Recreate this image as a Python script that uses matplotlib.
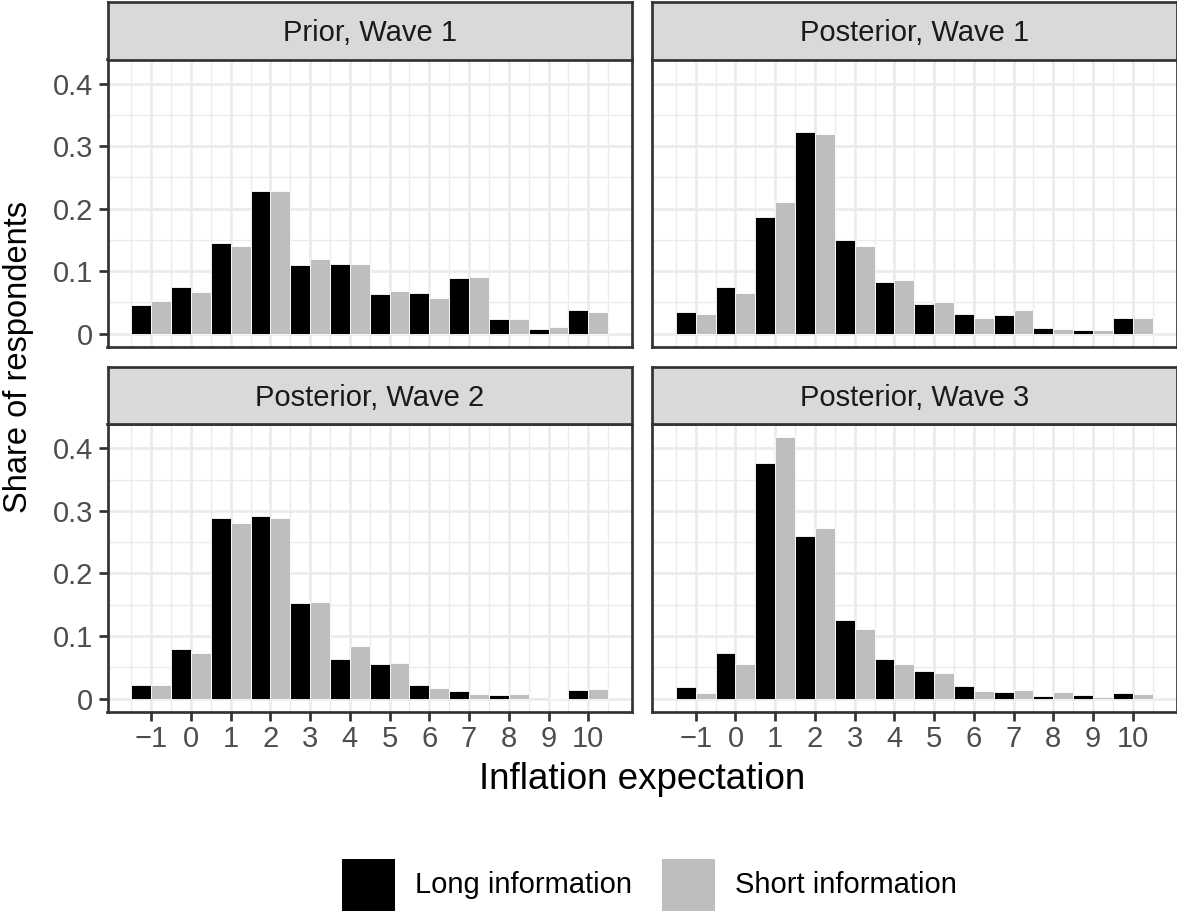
import numpy as np
import matplotlib
matplotlib.use("Agg")
import matplotlib.pyplot as plt
from matplotlib.patches import Rectangle
from matplotlib.ticker import FixedLocator

plt.rcParams['font.family'] = ['Liberation Sans', 'DejaVu Sans']

# Inflation expectation categories (percent)
expectations = [-1, 0, 1, 2, 3, 4, 5, 6, 7, 8, 9, 10]
tick_labels = ["\u22121", "0", "1", "2", "3", "4", "5", "6", "7", "8", "9", "10"]

panel_titles = ["Prior, Wave 1", "Posterior, Wave 1", "Posterior, Wave 2", "Posterior, Wave 3"]
group_names = ["Long information", "Short information"]

# Share of respondents per treatment group
prior_w1_long = [0.046, 0.075, 0.145, 0.228, 0.110, 0.112, 0.064, 0.065, 0.089, 0.0235, 0.0075, 0.038]
prior_w1_short = [0.052, 0.067, 0.140, 0.228, 0.120, 0.112, 0.068, 0.057, 0.091, 0.0235, 0.011, 0.035]

post_w1_long = [0.035, 0.075, 0.187, 0.3235, 0.150, 0.083, 0.048, 0.032, 0.030, 0.009, 0.006, 0.025]
post_w1_short = [0.032, 0.065, 0.210, 0.319, 0.141, 0.086, 0.051, 0.025, 0.038, 0.0075, 0.006, 0.025]

post_w2_long = [0.021, 0.079, 0.288, 0.2925, 0.153, 0.063, 0.055, 0.021, 0.012, 0.005, 0.0008, 0.013]
post_w2_short = [0.021, 0.073, 0.281, 0.288, 0.1545, 0.084, 0.057, 0.0166, 0.007, 0.007, 0.0012, 0.015]

post_w3_long = [0.018, 0.073, 0.376, 0.260, 0.126, 0.063, 0.044, 0.020, 0.010, 0.004, 0.005, 0.0085]
post_w3_short = [0.0085, 0.055, 0.418, 0.273, 0.111, 0.055, 0.041, 0.012, 0.013, 0.010, 0.002, 0.007]

panel_long = [prior_w1_long, post_w1_long, post_w2_long, post_w3_long]
panel_short = [prior_w1_short, post_w1_short, post_w2_short, post_w3_short]

LONG_COLOR = "#000000"
SHORT_COLOR = "#BEBEBE"
BORDER = "#333333"
GRID = "#EBEBEB"
STRIP_FILL = "#D9D9D9"

W, H = 1177, 911
fig = plt.figure(figsize=(W / 100, H / 100), dpi=100)


def frac(x0, y0, x1, y1):
    """Pixel box (top-left origin) -> figure fraction rect."""
    return [x0 / W, 1 - y1 / H, (x1 - x0) / W, (y1 - y0) / H]


col_x = [(107.5, 632.0), (652.0, 1176.5)]
row_panel = [(59.5, 346.7), (424.0, 711.7)]
row_strip = [(2.3, 59.5), (366.7, 424.0)]

x = np.array(expectations, dtype=float)
ymax = max(max(v) for v in panel_long + panel_short)
ylim = (-0.05 * ymax, 1.05 * ymax)
xlim = (-1.5 - 0.6, 10.5 + 0.6)

border_lw = 1.95
small_fs = 21
title_fs = 26.5

for i in range(4):
    r, c = divmod(i, 2)
    x0, x1 = col_x[c]
    py0, py1 = row_panel[r]
    sy0, sy1 = row_strip[r]

    ax = fig.add_axes(frac(x0, py0, x1, py1))
    ax.set_facecolor("white")
    ax.set_axisbelow(True)
    ax.bar(x - 0.25, panel_long[i], width=0.5, color=LONG_COLOR,
           edgecolor="white", linewidth=0.6, zorder=2)
    ax.bar(x + 0.25, panel_short[i], width=0.5, color=SHORT_COLOR,
           edgecolor="white", linewidth=0.6, zorder=2)
    ax.set_xlim(*xlim)
    ax.set_ylim(*ylim)

    ax.xaxis.set_major_locator(FixedLocator(expectations))
    ax.xaxis.set_minor_locator(FixedLocator(np.arange(-1.5, 11.0, 1.0)))
    ax.yaxis.set_major_locator(FixedLocator([0, 0.1, 0.2, 0.3, 0.4]))
    ax.yaxis.set_minor_locator(FixedLocator([0.05, 0.15, 0.25, 0.35]))
    ax.grid(which="major", color=GRID, linewidth=1.9, zorder=0)
    ax.grid(which="minor", color=GRID, linewidth=1.0, zorder=0)
    ax.tick_params(which="minor", length=0)
    ax.tick_params(which="major", length=6.5, width=border_lw, color=BORDER,
                   labelcolor="#4D4D4D", labelsize=small_fs)
    ax.tick_params(axis="x", pad=3)
    ax.tick_params(axis="y", pad=4)

    if r == 1:
        ax.set_xticklabels(tick_labels)
    else:
        ax.tick_params(axis="x", which="major", length=0, labelbottom=False)
    if c == 0:
        ax.set_yticklabels(["0", "0.1", "0.2", "0.3", "0.4"])
    else:
        ax.tick_params(axis="y", which="major", length=0, labelleft=False)

    for sp in ax.spines.values():
        sp.set_color(BORDER)
        sp.set_linewidth(border_lw)
        sp.set_zorder(5)

    # facet strip
    sax = fig.add_axes(frac(x0, sy0, x1, sy1))
    sax.set_facecolor(STRIP_FILL)
    sax.set_xticks([])
    sax.set_yticks([])
    for sp in sax.spines.values():
        sp.set_color(BORDER)
        sp.set_linewidth(border_lw)
    sax.text(0.5, 0.46, panel_titles[i], transform=sax.transAxes,
             ha="center", va="center", fontsize=small_fs, color="#1A1A1A")

# axis titles
fig.text((col_x[0][0] + col_x[1][1]) / 2 / W, 1 - 789.0 / H, "Inflation expectation",
         ha="center", va="baseline", fontsize=title_fs, color="black")
fig.text(19 / W, 1 - ((row_strip[0][0] + row_panel[1][1]) / 2) / H, "Share of respondents",
         rotation=90, ha="center", va="center", fontsize=23.5, color="black")

# legend
key_top, key_bot = 859.0, 911.0
keys = [(342.0, 395.0, LONG_COLOR, 415.0), (662.0, 715.0, SHORT_COLOR, 735.0)]
for (kx0, kx1, col, tx), name in zip(keys, group_names):
    fig.patches.append(Rectangle((kx0 / W, 1 - key_bot / H), (kx1 - kx0) / W,
                                 (key_bot - key_top) / H, transform=fig.transFigure,
                                 facecolor=col, edgecolor="none"))
    fig.text(tx / W, 1 - ((key_top + key_bot) / 2) / H, name, ha="left", va="center",
             fontsize=small_fs, color="black")

fig.savefig("out.png", dpi=100, facecolor="white")
